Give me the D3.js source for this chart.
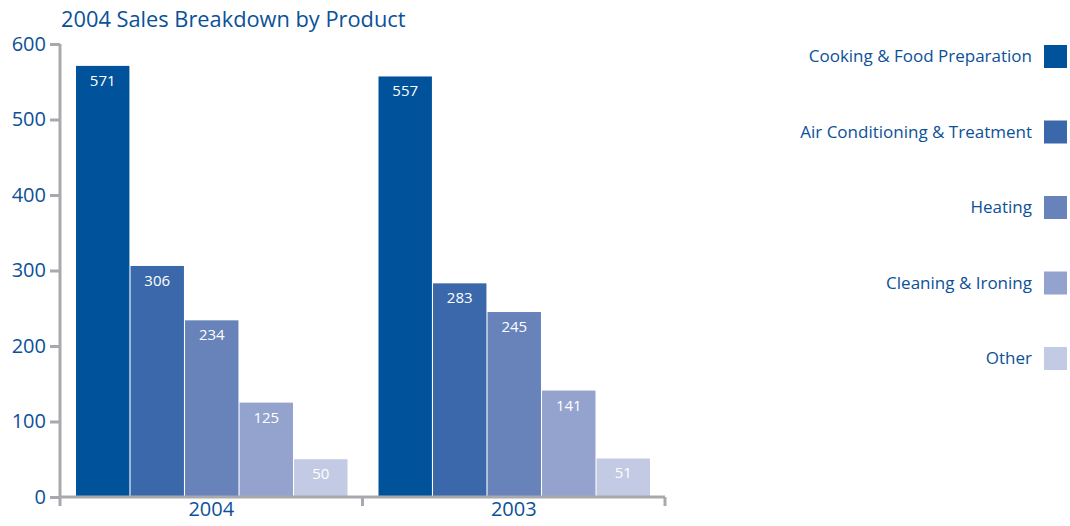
<!DOCTYPE html>
<html>
<head>
<meta charset="utf-8">
<script src="https://cdn.jsdelivr.net/npm/d3@7"></script>
<style>
  body { margin: 0; background: #fff; }
  text { font-family: "Open Sans", sans-serif; }
</style>
</head>
<body>
<svg width="1070" height="526"></svg>
<script>
var years = ["2004", "2003"];
var products = ["Cooking & Food Preparation", "Air Conditioning & Treatment", "Heating", "Cleaning & Ironing", "Other"];
var sales2004 = [571, 306, 234, 125, 50];
var sales2003 = [557, 283, 245, 141, 51];
var yTicks = [0, 100, 200, 300, 400, 500, 600];

var data = [
  { year: "2004", values: sales2004 },
  { year: "2003", values: sales2003 }
];

var svg = d3.select("svg");
var textColor = "#0b5198";
var axisColor = "#a7a9ac";

var color = d3.scaleOrdinal()                                   // product colours
    .domain(products)
    .range(["#00529b", "#3a68aa", "#6783ba", "#93a3ce", "#c3cae3"]);

var x0 = d3.scaleBand().domain(years).range([60, 665]).paddingInner(0).paddingOuter(0);
var x1 = d3.scaleBand().domain(products).range([16, x0.bandwidth() - 15]).paddingInner(0.02);
var y = d3.scaleLinear().domain([0, 600]).range([497, 44]);

svg.append("text")
    .attr("x", 61).attr("y", 27)
    .attr("fill", textColor)
    .style("font-size", "21.8px")
    .text("2004 Sales Breakdown by Product");

// bars
var groups = svg.append("g").selectAll("g")
    .data(data)
    .enter().append("g")
      .attr("transform", function(d) { return "translate(" + x0(d.year) + ",0)"; });

var bars = groups.selectAll("g")
    .data(function(d) { return d.values.map(function(v, i) { return { product: products[i], value: v }; }); })
    .enter().append("g");

bars.append("rect")
    .attr("x", function(d) { return x1(d.product); })
    .attr("y", function(d) { return y(d.value); })
    .attr("width", x1.bandwidth())
    .attr("height", function(d) { return y(0) - y(d.value); })
    .attr("fill", function(d) { return color(d.product); });

bars.append("text")
    .attr("x", function(d) { return x1(d.product) + x1.bandwidth() / 2; })
    .attr("y", function(d) { return y(d.value) + 20; })
    .attr("text-anchor", "middle")
    .attr("fill", "#fff")
    .style("font-size", "15px")
    .text(function(d) { return d.value; });

// y axis
var yAxis = svg.append("g")
    .attr("transform", "translate(60,0)")
    .call(d3.axisLeft(y).tickValues(yTicks).tickSize(10).tickPadding(4));
yAxis.select(".domain").attr("stroke", axisColor).attr("stroke-width", 3).attr("d", "M0," + y(600) + "V" + y(0));
yAxis.selectAll(".tick line").attr("stroke", axisColor).attr("stroke-width", 3);
yAxis.selectAll(".tick text").attr("fill", textColor).style("font-size", "20px").style("font-family", "Open Sans");

// x axis
var xAxis = svg.append("g")
    .attr("transform", "translate(0," + y(0) + ")")
    .call(d3.axisBottom(x0).tickSize(0).tickPadding(5));
xAxis.select(".domain").attr("stroke", axisColor).attr("stroke-width", 3).attr("d", "M60,0H665");
xAxis.selectAll(".tick text").attr("fill", textColor).style("font-size", "20px").style("font-family", "Open Sans");

xAxis.selectAll(".sep")
    .data([60, 362.5, 665])
    .enter().append("line")
      .attr("x1", function(d) { return d; }).attr("x2", function(d) { return d; })
      .attr("y1", 0).attr("y2", 9)
      .attr("stroke", axisColor).attr("stroke-width", 3);

// legend
var legend = svg.append("g").selectAll("g")
    .data(products)
    .enter().append("g")
      .attr("transform", function(d, i) { return "translate(1044," + (45 + i * 75.5) + ")"; });

legend.append("rect")
    .attr("width", 23).attr("height", 23)
    .attr("fill", function(d) { return color(d); });

legend.append("text")
    .attr("x", -12).attr("y", 17)
    .attr("text-anchor", "end")
    .attr("fill", textColor)
    .style("font-size", "17px")
    .text(function(d) { return d; });
</script>
</body>
</html>
